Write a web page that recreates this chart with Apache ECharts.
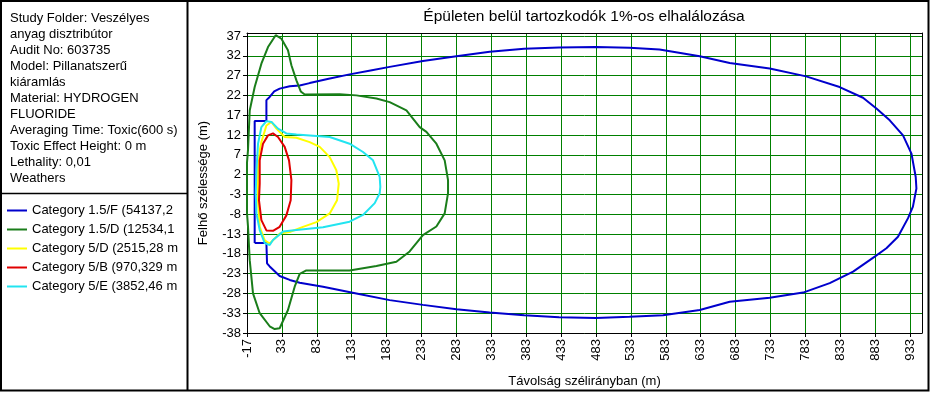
<!DOCTYPE html>
<html><head><meta charset="utf-8">
<script src="https://cdn.jsdelivr.net/npm/echarts@6/dist/echarts.min.js"></script>
<style>html,body{margin:0;padding:0;background:#fff}#c{width:930px;height:393px}</style>
</head><body><div id="c"></div><script>
const chartTitle = 'Épületen belül tartozkodók 1%-os elhalálozása';
const xAxisName = 'Távolság szélirányban (m)';
const yAxisName = 'Felhő szélessége (m)';
const infoLines = [
  'Study Folder: Veszélyes',
  'anyag disztribútor',
  'Audit No: 603735',
  'Model: Pillanatszerű',
  'kiáramlás',
  'Material: HYDROGEN',
  'FLUORIDE',
  'Averaging Time: Toxic(600 s)',
  'Toxic Effect Height: 0 m',
  'Lethality: 0,01',
  'Weathers'
];
const xMin = -17, xMax = 950, xStep = 50;
const yMin = -38, yMax = 37.75, yStep = 5;

const seriesNames = [
  'Category 1.5/F (54137,2',
  'Category 1.5/D (12534,1',
  'Category 5/D (2515,28 m',
  'Category 5/B (970,329 m',
  'Category 5/E (3852,46 m'
];

const cat15F = [[-6,-15.3],[-6,15.5],[10.8,15.5],[10.8,20.8],[15.5,21.6],[22,23],[29.8,23.7],[44.2,24.3],[58.5,24.5],[72.8,25.1],[100,26.2],[130,27.3],[160,28.3],[187.4,29.2],[235,30.7],[283,31.9],[330.7,33],[380,33.8],[430,34.1],[483,34.2],[531,34],[574,33.6],[631.6,31.9],[674.5,30.2],[731.8,28.8],[784,26.8],[832,24.1],[865.5,21.4],[884.7,18.7],[903.8,15.7],[922.8,11.9],[934.9,7.3],[941,1.4],[942,-1.5],[937,-6.1],[930,-9],[915.6,-13.7],[899,-16.6],[882.3,-18.7],[851.3,-22.5],[817.8,-25.4],[779.6,-27.8],[731.8,-29.1],[674.5,-30.1],[631.6,-32.2],[579,-33.5],[531,-33.9],[483,-34.2],[430,-34],[380,-33.5],[330.7,-32.8],[283,-32],[235,-30.9],[187.4,-29.7],[139.7,-28],[91.9,-26.3],[58.5,-25.3],[44.2,-24.6],[29.8,-23.6],[15.5,-21.2],[11.7,-20.4],[10.8,-15.3],[-6,-15.3]];

const cat15D = [[-15.6,8.1],[-13.1,18.2],[-6,24.1],[3.6,30],[13.1,34.2],[24.1,37.2],[32.3,36.3],[41.7,33.4],[46.6,29.6],[53.8,25.8],[60,23],[65.7,22.2],[115.8,22.3],[139.7,22],[168.4,21.2],[187.4,20.3],[211.4,18.2],[230.4,14],[240,12.8],[254.3,9.8],[266.2,5.6],[271,0.6],[271,-2.7],[266.2,-7.8],[254.3,-11.1],[235,-13.3],[216,-17.4],[197,-20],[168.4,-21.1],[130,-22.2],[91.9,-22.2],[68,-22.2],[58.5,-23.1],[51.3,-26.3],[41.7,-32.2],[29.8,-36.8],[22.7,-37],[15.5,-36.3],[1.2,-33],[-8.4,-28],[-13.1,-19.6],[-15.6,-11],[-17,-7.8],[-17,5],[-15.6,8.1]];

const cat5D = [[1.2,8.1],[3.6,10.2],[10.8,14.4],[18,15.3],[25.1,13.6],[37,11.5],[53.8,11.3],[72.8,10.2],[87.2,9],[101.5,6.4],[111,3.1],[114.4,-0.3],[112,-4.5],[101.5,-7.8],[82.4,-10],[63.2,-11.2],[44.2,-12.5],[29.8,-12.9],[20.2,-14.6],[15.5,-15.4],[8.4,-14.6],[1.2,-11.2],[-1.2,-4.5],[-1.2,3.9],[1.2,8.1]];

const cat5B = [[1.2,-0.3],[1.2,5.6],[5.9,9.8],[13.1,11.9],[20.2,12.4],[27.4,11.5],[37,9],[43.2,5.6],[46.6,0.6],[45.6,-4.5],[39.4,-8.3],[29.8,-11.2],[20.2,-12.2],[10.8,-12.1],[3.6,-9.5],[0.2,-4.5],[1.2,-0.3]];

const cat5E = [[-3.5,3.1],[-1.2,9.8],[3.6,14],[10.8,15.5],[18,15.3],[27.4,13.6],[39.4,12.4],[53.8,12.1],[101.5,11.5],[130,9.8],[149.2,7.7],[163.5,5.6],[173.1,1.4],[174,-1.1],[173.1,-2.7],[166,-5.2],[149.2,-8.2],[130,-9.9],[91.9,-11.3],[53.8,-12],[34.6,-12.4],[20.2,-14.5],[15.5,-15.8],[8.4,-15.3],[1.2,-12],[-3.5,-7.8],[-4.5,-2.7],[-3.5,3.1]];

const seriesData = [cat15F, cat15D, cat5D, cat5B, cat5E];
const seriesColors = ['#0000cc', '#1a7d1a', '#ffff00', '#e00000', '#22e4f0'];

const FONT = '"Liberation Sans", Arial, sans-serif';
const FS = 13;
const shift = p => [p[0] - xMin, p[1] - yMin];

const chart = echarts.init(document.getElementById('c'), null, {renderer: 'canvas'});
chart.setOption({
  animation: false,
  backgroundColor: '#fff',
  grid: {left: 247, right: 8, top: 33, bottom: 60, show: true, backgroundColor: '#fff', borderWidth: 0},
  legend: {
    orient: 'vertical', left: 7, top: 201, padding: 0, itemGap: 0,
    itemWidth: 20, itemHeight: 2, icon: 'rect', selectedMode: false,
    data: seriesNames,
    textStyle: {fontSize: FS, color: '#000', lineHeight: 19, fontFamily: FONT}
  },
  xAxis: [{
    type: 'value', min: 0, max: xMax - xMin, interval: xStep, position: 'bottom',
    name: xAxisName, nameLocation: 'middle', nameGap: 42,
    nameTextStyle: {fontSize: FS, color: '#000', fontFamily: FONT},
    axisLine: {show: true, onZero: false, lineStyle: {color: '#000', width: 1}},
    axisTick: {show: true, length: 4, lineStyle: {color: '#000'}},
    axisLabel: {rotate: 90, margin: 6, color: '#000', fontSize: FS, fontFamily: FONT,
      showMaxLabel: false, formatter: v => String(Math.round(v + xMin))},
    splitLine: {show: true, lineStyle: {color: '#008000', width: 1}}
  }, {
    type: 'value', min: 0, max: xMax - xMin, position: 'top',
    axisLine: {show: true, onZero: false, lineStyle: {color: '#000', width: 1}},
    axisTick: {show: false}, axisLabel: {show: false}, splitLine: {show: false}
  }],
  yAxis: [{
    type: 'value', min: 0, max: yMax - yMin, interval: yStep, position: 'left',
    name: yAxisName, nameLocation: 'middle', nameGap: 37,
    nameTextStyle: {fontSize: FS, color: '#000', fontFamily: FONT},
    axisLine: {show: true, onZero: false, lineStyle: {color: '#000', width: 1}},
    axisTick: {show: true, length: 4, lineStyle: {color: '#000'}},
    axisLabel: {margin: 6, color: '#000', fontSize: FS, fontFamily: FONT,
      showMaxLabel: false, formatter: v => String(Math.round(v + yMin))},
    splitLine: {show: true, lineStyle: {color: '#008000', width: 1}}
  }, {
    type: 'value', min: 0, max: yMax - yMin, position: 'right',
    axisLine: {show: true, onZero: false, lineStyle: {color: '#000', width: 1}},
    axisTick: {show: false}, axisLabel: {show: false}, splitLine: {show: false}
  }],
  series: seriesData.map((d, i) => ({
    type: 'line', name: seriesNames[i], xAxisIndex: 0, yAxisIndex: 0,
    data: d.map(shift), showSymbol: false, symbol: 'none', smooth: false, clip: true,
    color: seriesColors[i],
    lineStyle: {color: seriesColors[i], width: 2}
  })),
  graphic: [
    {type: 'rect', silent: true, z: 100, shape: {x: 1, y: 1, width: 927.5, height: 389.5},
      style: {fill: 'none', stroke: '#000', lineWidth: 2}},
    {type: 'line', silent: true, z: 100, shape: {x1: 187.5, y1: 0, x2: 187.5, y2: 391},
      style: {stroke: '#000', lineWidth: 2}},
    {type: 'line', silent: true, z: 100, shape: {x1: 0, y1: 193.5, x2: 187, y2: 193.5},
      style: {stroke: '#000', lineWidth: 1.5}},
    {type: 'text', silent: true, z: 100, x: 10, y: 10,
      style: {text: infoLines.join('\n'), fontSize: FS, lineHeight: 16, fontFamily: FONT,
        fill: '#000', verticalAlign: 'top', align: 'left'}},
    {type: 'text', silent: true, z: 100, x: 584, y: 17,
      style: {text: chartTitle, fontSize: 15.5, fontFamily: FONT, fill: '#000',
        align: 'center', verticalAlign: 'middle'}}
  ]
});
</script></body></html>
